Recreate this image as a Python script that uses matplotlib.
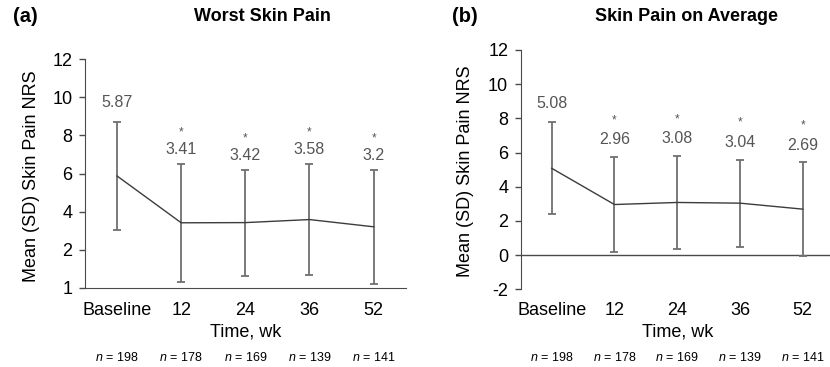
import matplotlib
matplotlib.use("Agg")
import matplotlib.pyplot as plt
import matplotlib.transforms as mtransforms
import numpy as np

plt.rcParams['font.family'] = ['Liberation Sans', 'DejaVu Sans']
plt.rcParams['mathtext.fontset'] = 'custom'
plt.rcParams['mathtext.it'] = 'Liberation Sans:italic'
plt.rcParams['mathtext.rm'] = 'Liberation Sans'

# ---- data ----
timepoints = ["Baseline", "12", "24", "36", "52"]
n_counts = [198, 178, 169, 139, 141]

worst_mean = [5.87, 3.41, 3.42, 3.58, 3.2]
worst_sd = [2.86, 3.09, 2.78, 2.92, 3.0]
worst_sig = [False, True, True, True, True]

avg_mean = [5.08, 2.96, 3.08, 3.04, 2.69]
avg_sd = [2.69, 2.78, 2.70, 2.54, 2.73]
avg_sig = [False, True, True, True, True]

worst_yticks = [0, 2, 4, 6, 8, 10, 12]
worst_yticklabels = ["1", "2", "4", "6", "8", "10", "12"]
avg_yticks = [-2, 0, 2, 4, 6, 8, 10, 12]
avg_yticklabels = ["-2", "0", "2", "4", "6", "8", "10", "12"]

W, H = 830, 367
fig = plt.figure(figsize=(W / 100, H / 100), dpi=100)

LINE_C = "#3c3c3c"
ERR_C = "#707070"
LABEL_C = "#555555"
SPINE_C = "#4a4a4a"


def px_rect(l, t, r, b):
    return [l / W, 1 - b / H, (r - l) / W, (b - t) / H]


def draw_panel(ax, means, sds, sig, yticks, yticklabels, ylim, xlim,
               tickpad, lab_off_base, lab_off, star_off, xlab_off, n_off,
               bottom_spine):
    x = np.arange(len(timepoints))
    ax.errorbar(x, means, yerr=sds, fmt='none', ecolor=ERR_C, elinewidth=1.3,
                capsize=2.8, capthick=1.3, zorder=2)
    ax.plot(x, means, color=LINE_C, lw=1.0, zorder=3)
    ax.set_xlim(*xlim)
    ax.set_ylim(*ylim)
    ax.set_yticks(yticks)
    ax.set_yticklabels(yticklabels)
    ax.set_xticks(x)
    ax.set_xticklabels(timepoints)
    ax.tick_params(axis='x', length=0, pad=tickpad, labelsize=13)
    ax.tick_params(axis='y', length=4, width=1, color=SPINE_C, pad=5, labelsize=13)
    for s in ['top', 'right']:
        ax.spines[s].set_visible(False)
    ax.spines['left'].set_color(SPINE_C)
    ax.spines['bottom'].set_color(SPINE_C)
    ax.spines['bottom'].set_visible(bottom_spine)
    if not bottom_spine:
        ax.axhline(0, color=SPINE_C, lw=1.0, zorder=1, clip_on=False)
    for i, (m, s) in enumerate(zip(means, sds)):
        off = lab_off_base if i == 0 else lab_off
        ax.annotate(f"{m:g}", xy=(x[i], m + s), xytext=(0, off),
                    textcoords='offset points', ha='center', va='center',
                    fontsize=11.5, color=LABEL_C)
        if sig[i]:
            ax.annotate("*", xy=(x[i], m + s), xytext=(0, off + star_off),
                        textcoords='offset points', ha='center', va='center',
                        fontsize=8.5, color=LABEL_C)
    trans = mtransforms.blended_transform_factory(ax.transData, ax.transAxes)
    ax.annotate("Time, wk", xy=(2, 0), xycoords=trans, xytext=(0, -xlab_off),
                textcoords='offset points', ha='center', va='center', fontsize=13)
    for i, n in enumerate(n_counts):
        ax.annotate(f"$n$ = {n}", xy=(x[i], 0), xycoords=trans, xytext=(0, -n_off),
                    textcoords='offset points', ha='center', va='center', fontsize=9)


ax1 = fig.add_axes(px_rect(85, 59.3, 405.7, 287.7))
draw_panel(ax1, worst_mean, worst_sd, worst_sig, worst_yticks, worst_yticklabels,
           (0, 12), (-0.5, 4.5), tickpad=10, lab_off_base=13.5, lab_off=10.5,
           star_off=12, xlab_off=31.7, n_off=50.3, bottom_spine=True)

ax2 = fig.add_axes(px_rect(520.7, 50, 830, 289.3))
draw_panel(ax2, avg_mean, avg_sd, avg_sig, avg_yticks, avg_yticklabels,
           (-2, 12), (-0.494, 4.435), tickpad=9, lab_off_base=13.3, lab_off=12.5,
           star_off=14, xlab_off=30.5, n_off=49, bottom_spine=False)

# y labels
fig.text(32 / W, 1 - 175.8 / H, "Mean (SD) Skin Pain NRS", rotation=90,
         ha='center', va='center', fontsize=13)
fig.text(465 / W, 1 - 170.8 / H, "Mean (SD) Skin Pain NRS", rotation=90,
         ha='center', va='center', fontsize=13)

# titles and panel letters
fig.text(262.3 / W, 1 - 16.7 / H, "Worst Skin Pain", ha='center', va='center',
         fontsize=13, fontweight='bold')
fig.text(686 / W, 1 - 16.7 / H, "Skin Pain on Average", ha='center', va='center',
         fontsize=13, fontweight='bold')
fig.text(13.3 / W, 1 - 16 / H, "(a)", ha='left', va='center', fontsize=14.5,
         fontweight='bold')
fig.text(451.7 / W, 1 - 16 / H, "(b)", ha='left', va='center', fontsize=14.5,
         fontweight='bold')

fig.savefig("out.png", dpi=100)
